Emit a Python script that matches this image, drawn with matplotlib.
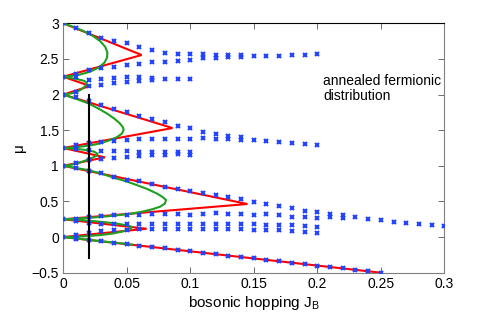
import matplotlib
matplotlib.use('Agg')
import matplotlib.pyplot as plt
import numpy as np

plt.rcParams['font.family'] = ['Liberation Sans', 'DejaVu Sans']
plt.rcParams['mathtext.fontset'] = 'custom'
plt.rcParams['mathtext.rm'] = 'Liberation Sans'
plt.rcParams['mathtext.it'] = 'Liberation Sans:italic'

# ---------------- data ----------------
J = [round(0.01 * i, 2) for i in range(31)]   # sampling grid of bosonic hopping

# blue crosses: (start index on J grid, mu values)
bottom = (0, [0.00, -0.02, -0.04, -0.06, -0.08, -0.10, -0.12, -0.14, -0.16, -0.18, -0.20,
              -0.22, -0.24, -0.26, -0.28, -0.30, -0.32, -0.34, -0.36, -0.38, -0.40,
              -0.42, -0.44, -0.46, -0.48, -0.50])
top_upper = (0, [3.00, 2.93, 2.87, 2.80, 2.755, 2.72, 2.665, 2.62, 2.59, 2.57, 2.565,
                 2.57, 2.555, 2.555, 2.555, 2.54, 2.54, 2.545, 2.555, 2.555, 2.565])
top_lower = (0, [2.25, 2.29, 2.34, 2.37, 2.39, 2.41, 2.43, 2.45, 2.46, 2.475, 2.485,
                 2.51, 2.51, 2.523, 2.523])
mid2_upper = (1, [2.25, 2.21, 2.22, 2.23, 2.24, 2.24, 2.23, 2.22, 2.22, 2.215])
mid2_lower = (0, [2.00, 2.04, 2.12, 2.14, 2.16, 2.18, 2.19, 2.21])
lobe2_upper = (0, [2.00, 1.96, 1.91, 1.85, 1.80, 1.75, 1.70, 1.655, 1.61, 1.565, 1.526,
                   1.478, 1.446, 1.422, 1.40, 1.362, 1.352, 1.338, 1.324, 1.305, 1.291])
lobe2_lower = (0, [1.25, 1.29, 1.32, 1.34, 1.35, 1.36, 1.37, 1.38, 1.37, 1.37, 1.371,
                   1.386, 1.376, 1.376, 1.362])
mid1_upper = (1, [1.24, 1.22, 1.21, 1.21, 1.207, 1.20, 1.20, 1.20, 1.20, 1.198])
mid1_lower = (0, [1.00, 1.04, 1.08, 1.10, 1.11, 1.127, 1.141, 1.15, 1.151, 1.16, 1.151])
lobe1_upper = (0, [1.00, 0.965, 0.93, 0.894, 0.847, 0.80, 0.786, 0.74, 0.707, 0.674, 0.646,
                   0.622, 0.585, 0.566, 0.529, 0.494, 0.463, 0.435, 0.402, 0.37, 0.347,
                   0.319, 0.305, 0.276, 0.253, 0.239, 0.215, 0.201, 0.187, 0.173, 0.159])
lobe1_lower = (0, [0.25, 0.26, 0.28, 0.295, 0.305, 0.31, 0.315, 0.32, 0.325, 0.33, 0.315,
                   0.323, 0.333, 0.323, 0.323, 0.309, 0.323, 0.309, 0.285, 0.285, 0.262,
                   0.285, 0.272])
mid0_upper = (1, [0.225, 0.20, 0.19, 0.19, 0.19, 0.19, 0.19, 0.19, 0.19, 0.19, 0.19,
                  0.19, 0.19, 0.185, 0.18, 0.175, 0.17, 0.165, 0.155, 0.145])
mid0_lower = (1, [0.03, 0.06, 0.09, 0.10, 0.105, 0.11, 0.11, 0.11, 0.11, 0.11, 0.11,
                  0.11, 0.11, 0.11, 0.105, 0.10, 0.095, 0.085, 0.075, 0.06])
blue_branches = [bottom, top_upper, top_lower, mid2_upper, mid2_lower, lobe2_upper,
                 lobe2_lower, mid1_upper, mid1_lower, lobe1_upper, lobe1_lower,
                 mid0_upper, mid0_lower]

# red lines (straight lobe boundaries)
red_J = [0, 0.0617, 0, 0.021, 0, 0.086, 0, 0.0328, 0, 0.145, 0, 0.0656, 0, 0.25]
red_mu = [3, 2.555, 2.25, 2.12, 2.0, 1.53, 1.25, 1.119, 1.0, 0.464, 0.25, 0.117, 0, -0.5]

# green curves (mean-field lobes)
green_top_J = [0, 0.008, 0.016, 0.0235, 0.029, 0.033, 0.0347, 0.0345, 0.0325, 0.028,
               0.021, 0.013, 0.006, 0]
green_top_mu = [3.0, 2.95, 2.89, 2.82, 2.75, 2.67, 2.59, 2.52, 2.45, 2.38,
                2.32, 2.28, 2.26, 2.25]
green_s2_J = [0.0105, 0.016, 0.0184, 0.0178, 0.0158, 0.012, 0.0079, 0]
green_s2_mu = [2.218, 2.195, 2.17, 2.13, 2.092, 2.05, 2.021, 2.0]
green_b2_J = [0.010, 0.0197, 0.028, 0.0342, 0.040, 0.0443, 0.047, 0.0475, 0.046, 0.042,
              0.036, 0.029, 0.021, 0.012, 0.004, 0]
green_b2_mu = [1.94, 1.877, 1.80, 1.736, 1.665, 1.60, 1.54, 1.50, 1.45, 1.40,
               1.355, 1.315, 1.285, 1.265, 1.254, 1.25]
green_s1_J = [0.009, 0.0184, 0.024, 0.027, 0.026, 0.022, 0.016, 0.0105, 0.005, 0]
green_s1_mu = [1.24, 1.221, 1.20, 1.17, 1.14, 1.105, 1.065, 1.03, 1.01, 1.0]
green_b1_J = [0.0197, 0.03, 0.0394, 0.05, 0.0578, 0.066, 0.0735, 0.078, 0.0809, 0.080,
              0.076, 0.070, 0.063, 0.054, 0.0446, 0.034, 0.0236, 0.012, 0]
green_b1_mu = [0.94, 0.89, 0.835, 0.78, 0.73, 0.675, 0.613, 0.565, 0.52, 0.47,
               0.425, 0.39, 0.36, 0.33, 0.31, 0.29, 0.275, 0.26, 0.25]
green_s0_J = [0.012, 0.0236, 0.034, 0.042, 0.049, 0.0538, 0.053, 0.047, 0.039, 0.029,
              0.018, 0.0105, 0]
green_s0_mu = [0.24, 0.224, 0.207, 0.19, 0.168, 0.145, 0.115, 0.08, 0.05, 0.028,
               0.013, 0.005, 0.0]
green_tail_J = [0.054]
green_tail_mu = [-0.105]

green_J = (green_top_J + green_s2_J + green_b2_J + green_s1_J + green_b1_J
           + green_s0_J + green_tail_J)
green_mu = (green_top_mu + green_s2_mu + green_b2_mu + green_s1_mu + green_b1_mu
            + green_s0_mu + green_tail_mu)

# black vertical marker line
black_J = [0.02, 0.02]
black_mu = [-0.3, 2.0]

xticks = [0, 0.05, 0.1, 0.15, 0.2, 0.25, 0.3]
xticklabels = ['0', '0.05', '0.1', '0.15', '0.2', '0.25', '0.3']
yticks = [-0.5, 0, 0.5, 1, 1.5, 2, 2.5, 3]
yticklabels = ['\u22120.5', '0', '0.5', '1', '1.5', '2', '2.5', '3']

# ---------------- plot ----------------
fig = plt.figure(figsize=(4.91, 3.14), dpi=100)
ax = fig.add_axes([0.1289, 0.1315, 0.776, 0.7943])

ax.plot(red_J, red_mu, color='#ff0000', lw=1.5, zorder=2, solid_joinstyle='miter')
ax.plot(green_J, green_mu, color='#1ea01e', lw=1.5, zorder=3, solid_joinstyle='round')
for start, vals in blue_branches:
    ax.plot(J[start:start + len(vals)], vals, linestyle='none', marker='x',
            ms=3.0, mew=1.5, color='#2244ff', zorder=4)
ax.plot(black_J, black_mu, color='black', lw=1.5, zorder=5)

ax.text(0.2045, 2.29, 'annealed fermionic\ndistribution', fontsize=10, va='top',
        ha='left', linespacing=1.1)

ax.set_xlim(0, 0.3)
ax.set_ylim(-0.5, 3)
ax.set_xticks(xticks)
ax.set_xticklabels(xticklabels)
ax.set_yticks(yticks)
ax.set_yticklabels(yticklabels)
ax.tick_params(direction='in', length=4, width=0.6, labelsize=10, top=True, right=True,
               color='#555555', pad=3)
for side in ['left', 'bottom', 'right']:
    ax.spines[side].set_color('#808080')
    ax.spines[side].set_linewidth(0.8)
ax.spines['top'].set_color('black')
ax.spines['top'].set_linewidth(0.8)

ax.set_xlabel('bosonic hopping J$_\\mathrm{B}$', fontsize=11, labelpad=2)
ax.set_ylabel('\u03bc', fontsize=11, labelpad=4)

fig.savefig('out.png', dpi=100)
